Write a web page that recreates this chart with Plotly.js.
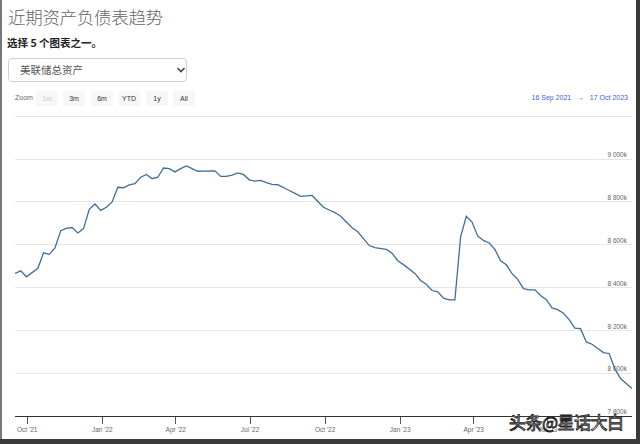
<!DOCTYPE html>
<html>
<head>
<meta charset="utf-8">
<script src="https://cdn.plot.ly/plotly-3.0.1.min.js"></script>
<style>
  html, body { margin:0; padding:0; background:#fff; }
  #wrap { position:relative; width:640px; height:444px; overflow:hidden; background:#fff; font-family:"Noto Sans CJK SC","Noto Sans",sans-serif; }
  #chart { position:absolute; left:0; top:0; width:640px; height:444px; }
  .abs { position:absolute; white-space:nowrap; }
  .btn { position:absolute; top:91px; height:15px; background:#f7f7f7; border-radius:2px; font:7px "Liberation Sans",Arial,sans-serif; color:#333; line-height:15px; text-align:center; }
</style>
</head>
<body>
<div id="wrap">
  <div id="chart"></div>
  <div class="abs" id="title" style="left:8px;top:4px;font-size:17.5px;color:#666;font-weight:300;letter-spacing:-0.3px;"></div>
  <div class="abs" id="subtitle" style="left:7px;top:35px;font-size:10.5px;color:#222;font-weight:bold;"></div>
  <div class="abs" style="left:8px;top:58px;width:179px;height:24px;border:1px solid #d0d0d0;border-radius:4px;box-sizing:border-box;"></div>
  <div class="abs" id="selectText" style="left:20px;top:62px;font-size:10.5px;color:#555;"></div>
  <svg class="abs" style="left:176px;top:66px" width="10" height="8"><polyline points="1.5,2 5,5.5 8.5,2" fill="none" stroke="#444" stroke-width="1.6"/></svg>
  <div class="abs" id="zoomLabel" style="left:15px;top:94px;font:7px 'Liberation Sans',Arial,sans-serif;color:#666;"></div>
  <div id="buttons"></div>
  <div class="abs" id="dateRange" style="right:12px;top:94px;font:7px 'Liberation Sans',Arial,sans-serif;color:#4060e0;"></div>
  <div class="abs" id="wm" style="left:509px;top:409px;font-size:17px;color:#fff;-webkit-text-stroke:0.9px #222;letter-spacing:-0.5px;"></div>
  <div class="abs" style="left:0;top:0;width:2px;height:444px;background:#777;"></div>
  <div class="abs" style="left:636px;top:0;width:4px;height:444px;background:#3a3a3a;"></div>
  <div class="abs" style="left:0;top:439px;width:640px;height:5px;background:#3a3a3a;"></div>
</div>
<script>
// ---- text ----
const titleText = "近期资产负债表趋势";
const subtitleText = "选择 5 个图表之一。";
const selectLabel = "美联储总资产";
const zoomText = "Zoom";
const buttonLabels = ["1m", "3m", "6m", "YTD", "1y", "All"];
const rangeFrom = "16 Sep 2021";
const rangeTo = "17 Oct 2023";
const watermark = "头条@星话大白";

// ---- data (Fed total assets, in k units) ----
const dates = [
"2021-09-16","2021-09-23","2021-09-30","2021-10-07","2021-10-14","2021-10-21","2021-10-28","2021-11-04","2021-11-11","2021-11-18",
"2021-11-25","2021-12-02","2021-12-09","2021-12-16","2021-12-23","2021-12-30","2022-01-06","2022-01-13","2022-01-20","2022-01-27",
"2022-02-03","2022-02-10","2022-02-17","2022-02-24","2022-03-03","2022-03-10","2022-03-17","2022-03-24","2022-03-31","2022-04-07",
"2022-04-14","2022-04-21","2022-04-28","2022-05-05","2022-05-12","2022-05-19","2022-05-26","2022-06-02","2022-06-09","2022-06-16",
"2022-06-23","2022-06-30","2022-07-07","2022-07-14","2022-07-21","2022-07-28","2022-08-04","2022-08-11","2022-08-18","2022-08-25",
"2022-09-01","2022-09-08","2022-09-15","2022-09-22","2022-09-29","2022-10-06","2022-10-13","2022-10-20","2022-10-27","2022-11-03",
"2022-11-10","2022-11-17","2022-11-24","2022-12-01","2022-12-08","2022-12-15","2022-12-22","2022-12-29","2023-01-05","2023-01-12",
"2023-01-19","2023-01-26","2023-02-02","2023-02-09","2023-02-16","2023-02-23","2023-03-02","2023-03-09","2023-03-16","2023-03-23",
"2023-03-30","2023-04-06","2023-04-13","2023-04-20","2023-04-27","2023-05-04","2023-05-11","2023-05-18","2023-05-25","2023-06-01",
"2023-06-08","2023-06-15","2023-06-22","2023-06-29","2023-07-06","2023-07-13","2023-07-20","2023-07-27","2023-08-03","2023-08-10",
"2023-08-17","2023-08-24","2023-08-31","2023-09-07","2023-09-14","2023-09-21","2023-09-28","2023-10-05","2023-10-12"
];
const totalAssets = [
8466,8478,8450,8470,8490,8562,8555,8585,8665,8676,
8680,8655,8675,8765,8790,8760,8775,8800,8868,8866,
8879,8885,8915,8928,8908,8915,8958,8955,8940,8955,
8968,8955,8943,8944,8946,8945,8919,8919,8925,8935,
8928,8903,8897,8900,8890,8882,8880,8868,8853,8840,
8826,8828,8830,8802,8775,8762,8750,8733,8707,8679,
8660,8629,8596,8586,8583,8578,8560,8525,8507,8488,
8466,8433,8415,8386,8380,8350,8342,8342,8637,8733,
8706,8640,8620,8608,8578,8525,8506,8465,8438,8395,
8389,8389,8363,8343,8305,8297,8280,8250,8210,8208,
8146,8135,8115,8096,8092,8020,7975,7951,7928
];
const yTickVals = [7800, 8000, 8200, 8400, 8600, 8800, 9000, 9200];
const yTickText = ["7 800k", "8 000k", "8 200k", "8 400k", "8 600k", "8 800k", "9 000k", ""];

// ---- header DOM ----
document.getElementById("title").textContent = titleText;
document.getElementById("subtitle").textContent = subtitleText;
document.getElementById("selectText").textContent = selectLabel;
document.getElementById("zoomLabel").textContent = zoomText;
document.getElementById("dateRange").innerHTML = rangeFrom + "&nbsp;&nbsp;&nbsp;→&nbsp;&nbsp;&nbsp;" + rangeTo;
document.getElementById("wm").textContent = watermark;
const btnLeft = [36, 63, 91, 118, 146, 173];
const bc = document.getElementById("buttons");
buttonLabels.forEach((b, i) => {
  const d = document.createElement("div");
  d.className = "btn";
  d.style.left = btnLeft[i] + "px";
  d.style.width = "22px";
  d.textContent = b;
  if (i === 0) d.style.color = "#ccc";
  bc.appendChild(d);
});

// ---- chart ----
const trace = {
  x: dates, y: totalAssets, type: "scatter", mode: "lines",
  line: { color: "#3f6e9c", width: 1.3 }, hoverinfo: "x+y"
};
const layout = {
  width: 640, height: 444,
  margin: { l: 15, r: 8, t: 113, b: 28 },
  paper_bgcolor: "rgba(0,0,0,0)", plot_bgcolor: "rgba(0,0,0,0)",
  showlegend: false,
  xaxis: {
    type: "date", range: ["2021-09-16", "2023-10-12"],
    tick0: "2021-10-01", dtick: "M3", tickformat: "%b '%y",
    showgrid: false, zeroline: false,
    showline: true, linecolor: "#333", linewidth: 1,
    ticks: "outside", ticklen: 7, tickcolor: "#555", tickwidth: 1,
    tickfont: { family: "Liberation Sans, Arial, sans-serif", size: 6.5, color: "#666" }
  },
  yaxis: {
    range: [7800, 9215], side: "right",
    tickvals: yTickVals, ticktext: yTickText,
    ticklabelposition: "inside", ticklabelshift: -4, ticklabelstandoff: 2,
    showgrid: true, gridcolor: "#e6e6e6", gridwidth: 1,
    zeroline: false, showline: false, ticks: "",
    tickfont: { family: "Liberation Sans, Arial, sans-serif", size: 6.5, color: "#666" }
  }
};
Plotly.newPlot("chart", [trace], layout, { displayModeBar: false, staticPlot: true });
</script>
</body>
</html>
